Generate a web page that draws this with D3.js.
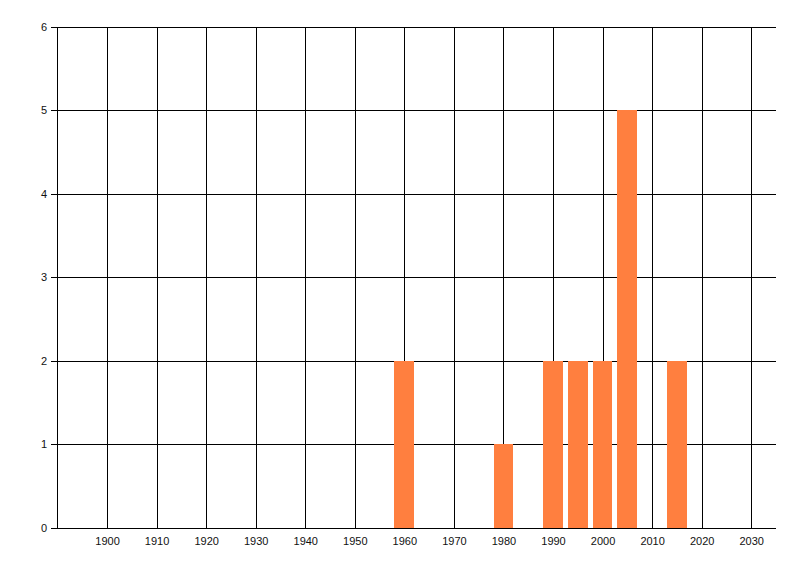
<!DOCTYPE html>
<html><head><meta charset="utf-8">
<script src="https://cdn.jsdelivr.net/npm/d3@7"></script>
<style>body{margin:0;background:#fff}svg{display:block}text{font-family:"Liberation Sans",Arial,sans-serif;font-size:11px;fill:#111}</style>
</head><body>
<script>
const years = [1960, 1980, 1990, 1995, 2000, 2005, 2015];
const counts = [2, 1, 2, 2, 2, 5, 2];
const xTicks = [1900,1910,1920,1930,1940,1950,1960,1970,1980,1990,2000,2010,2020,2030];
const yTicks = [0,1,2,3,4,5,6];

const W = 800, H = 576;
const svg = d3.select("body").append("svg").attr("width", W).attr("height", H)
  .attr("shape-rendering", "crispEdges");
const x = d3.scaleLinear().domain([1890, 2035]).range([57.5, 776]);
const y = d3.scaleLinear().domain([0, 6]).range([527.5, 26.5]);
const py = v => Math.round(y(v)) + 0.5;
const px = v => Math.round(x(v)) + 0.5;

const g = svg.append("g");
// horizontal gridlines
g.selectAll("line.h").data(yTicks.filter(d => d > 0)).join("line")
  .attr("x1", 51).attr("x2", 776)
  .attr("y1", py).attr("y2", py)
  .attr("stroke", "#000");
// vertical gridlines
g.selectAll("line.v").data(xTicks).join("line")
  .attr("x1", px).attr("x2", px)
  .attr("y1", py(6)).attr("y2", py(0))
  .attr("stroke", "#000");
// left axis line
g.append("line").attr("x1", 57.5).attr("x2", 57.5).attr("y1", py(6)).attr("y2", py(0))
  .attr("stroke", "#000");

// bars
svg.selectAll("rect.bar").data(years).join("rect")
  .attr("x", d => Math.round(x(d - 2)))
  .attr("width", d => Math.round(x(d + 2)) - Math.round(x(d - 2)))
  .attr("y", (d, i) => Math.round(y(counts[i])))
  .attr("height", (d, i) => Math.round(y(0)) - Math.round(y(counts[i])) + 1)
  .attr("fill", "#FF7F3F");

// bottom axis line over bars
svg.append("line").attr("x1", 51).attr("x2", 776).attr("y1", py(0)).attr("y2", py(0))
  .attr("stroke", "#000");

// y labels
svg.selectAll("text.y").data(yTicks).join("text")
  .attr("x", 47).attr("y", d => y(d) + 4)
  .attr("text-anchor", "end").text(d => d);
// x labels
svg.selectAll("text.x").data(xTicks).join("text")
  .attr("x", d => x(d) + 0.5).attr("y", 545)
  .attr("text-anchor", "middle").text(d => d);
</script>
</body></html>
